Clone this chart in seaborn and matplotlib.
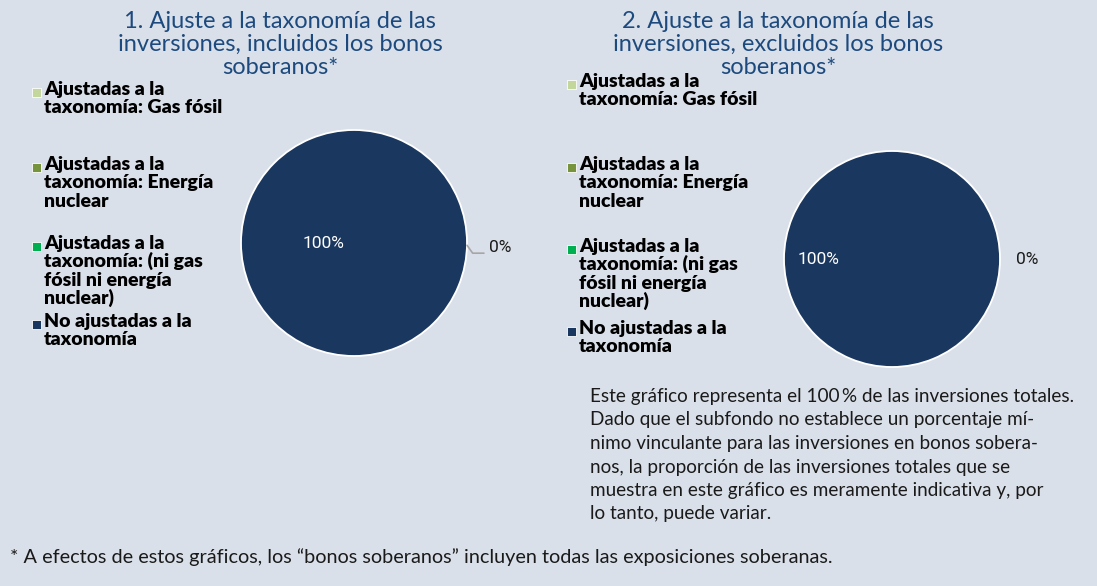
import matplotlib.pyplot as plt
import seaborn as sns
import numpy as np
from matplotlib.patches import Rectangle

# chart data
categories = ['Ajustadas a la\ntaxonomía: Gas fósil',
              'Ajustadas a la\ntaxonomía: Energía\nnuclear',
              'Ajustadas a la\ntaxonomía: (ni gas\nfósil ni energía\nnuclear)',
              'No ajustadas a la\ntaxonomía']
colors = ['#c3d69b', '#77933c', '#00b050', '#1a375f']
values_incl = [0, 0, 0, 100]
values_excl = [0, 0, 0, 100]
titles = ['1. Ajuste a la taxonomía de las\ninversiones, incluidos los bonos\nsoberanos*',
          '2. Ajuste a la taxonomía de las\ninversiones, excluidos los bonos\nsoberanos*']
note = ('Este gráfico representa el 100\u2009% de las inversiones totales.\n'
        'Dado que el subfondo no establece un porcentaje mí-\n'
        'nimo vinculante para las inversiones en bonos sobera-\n'
        'nos, la proporción de las inversiones totales que se\n'
        'muestra en este gráfico es meramente indicativa y, por\n'
        'lo tanto, puede variar.')
footnote = '* A efectos de estos gráficos, los “bonos soberanos” incluyen todas las exposiciones soberanas.'

sns.set_theme(style='white')
plt.rcParams['font.family'] = ['Lato', 'DejaVu Sans']

W, H = 1097, 586
bg = '#dae0e9'
fig = plt.figure(figsize=(W / 100, H / 100), dpi=100, facecolor=bg)


def fx(x):
    return x / W


def fy(y):
    return 1 - y / H


def text_lines(x, y, text, pitch, **kw):
    # draw multi-line text with a fixed baseline pitch (pixels)
    for i, line in enumerate(text.split('\n')):
        fig.text(fx(x), fy(y + i * pitch), line, va='baseline', **kw)


def draw_pie(values, cx, cy, r, in_r, out_r, out_dy, leader):
    lim = 1.6
    side = 2 * lim * r
    ax = fig.add_axes([fx(cx - side / 2), fy(cy + side / 2), side / W, side / H])
    wedges, _ = ax.pie(values, colors=colors, startangle=0, counterclock=True, radius=1,
                       wedgeprops=dict(edgecolor='white', linewidth=1.3))
    ax.set_xlim(-lim, lim)
    ax.set_ylim(-lim, lim)
    ax.set_axis_off()
    total = sum(values)
    # label of the big slice, inside
    big = int(np.argmax(values))
    ang = np.deg2rad((wedges[big].theta1 + wedges[big].theta2) / 2)
    ax.text(in_r * np.cos(ang), in_r * np.sin(ang), f'{values[big] / total * 100:.0f}%',
            ha='center', va='center', color='white', fontsize=12.5, family='Roboto')
    # one label for the empty slices, outside
    ang = np.deg2rad(wedges[0].theta1)
    ax.text(out_r * np.cos(ang), out_r * np.sin(ang) + out_dy, f'{values[0] / total * 100:.0f}%',
            ha='center', va='center', color='#1a1a1a', fontsize=12.5, family='Roboto')
    if leader:
        ax.plot([1.0, 1.05, 1.15], [-0.02, -0.09, -0.09], color='#a6a6a6', lw=1.2)
    return ax


draw_pie(values_incl, 354, 243, 113, 0.27, 1.29, -0.04, True)
draw_pie(values_excl, 892, 259, 108, 0.68, 1.25, 0.0, False)

# titles
title_color = '#1d4a7e'
text_lines(280, 28, titles[0], 23, ha='center', color=title_color, fontsize=17)
text_lines(778, 28, titles[1], 23, ha='center', color=title_color, fontsize=17)

# legends
legend_layout = [(44, 32, [95, 170, 249, 327]), (579, 567, [87, 170, 252, 334])]
for tx, mx, baselines in legend_layout:
    for cat, col, by in zip(categories, colors, baselines):
        text_lines(tx, by, cat, 18.3, ha='left', color='black', fontsize=14, fontweight='heavy')
        fig.add_artist(Rectangle((fx(mx), fy(by + 2)), 9 / W, 9 / H, transform=fig.transFigure,
                                 facecolor=col, edgecolor='white', linewidth=0.6))

# note and footnote
text_lines(590, 402, note, 23.5, ha='left', color='#1a1a1a', fontsize=13.6)
text_lines(10, 563, footnote, 20, ha='left', color='#1a1a1a', fontsize=14.3)

fig.savefig('out.png', dpi=100, facecolor=bg)
